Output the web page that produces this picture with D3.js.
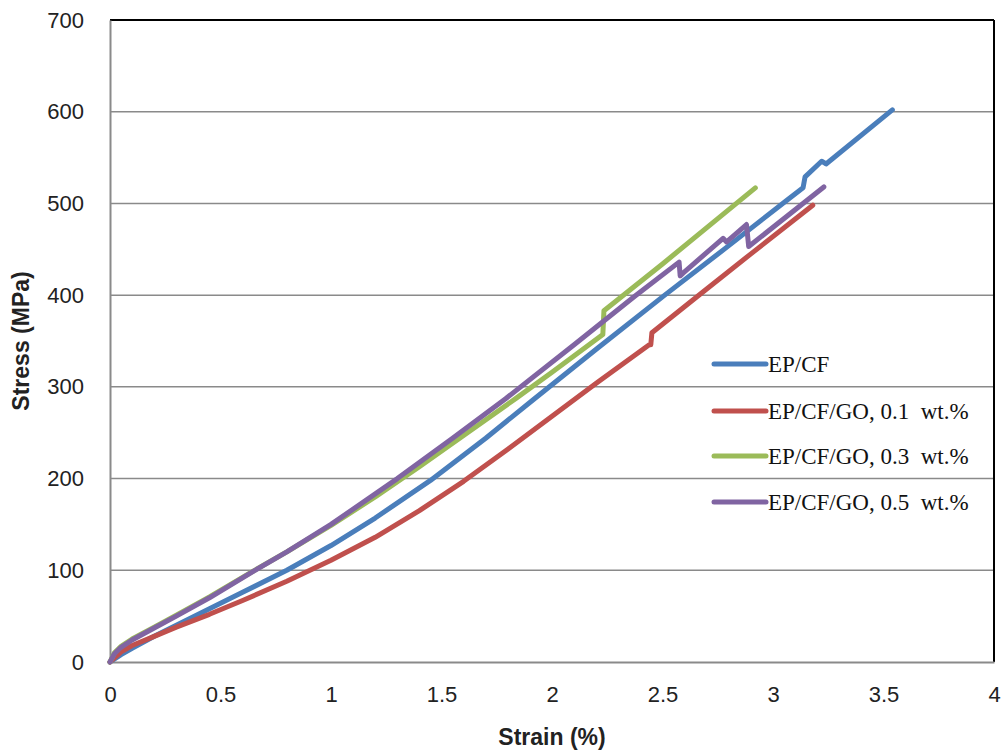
<!DOCTYPE html>
<html>
<head>
<meta charset="utf-8">
<script src="https://cdn.jsdelivr.net/npm/d3@7"></script>
<style>
  body { margin: 0; background: #fff; }
  svg { display: block; }
</style>
</head>
<body>
<svg width="1003" height="751"></svg>
<script>
var svg = d3.select('svg')

// values: [strain %, stress MPa]
var epcf = [[0, 0], [0.05, 8], [0.1, 15], [0.2, 28], [0.3, 40], [0.45, 58], [0.6, 76], [0.8, 100],
  [1.0, 127], [1.2, 157], [1.45, 198], [1.7, 244], [1.915, 286], [2.2, 341], [2.51, 400],
  [2.8, 454], [3.06, 503], [3.136, 517], [3.145, 529], [3.22, 546], [3.24, 543], [3.54, 602]]
var go01 = [[0, 0], [0.05, 11], [0.1, 18], [0.2, 28], [0.3, 38], [0.45, 52], [0.6, 67], [0.8, 88],
  [1.0, 111], [1.2, 136], [1.4, 165], [1.6, 197], [1.8, 232], [2.0, 268], [2.2, 304],
  [2.44, 346], [2.447, 346], [2.452, 359], [2.67, 401], [2.9, 445], [3.18, 498]]
var go03 = [[0, 0], [0.02, 10], [0.05, 17], [0.1, 25], [0.2, 38], [0.3, 51], [0.45, 71], [0.64, 98],
  [0.8, 120], [1.0, 149], [1.2, 180], [1.4, 213], [1.6, 247], [1.84, 288], [2.0, 316], [2.23, 357],
  [2.235, 383], [2.5, 434], [2.92, 517]]
var go05 = [[0, 0], [0.02, 9], [0.05, 16], [0.1, 24], [0.2, 37], [0.3, 50], [0.45, 70], [0.65, 99],
  [0.8, 120], [1.0, 150], [1.3, 200], [1.55, 244], [1.79, 287], [2.1, 346], [2.37, 398], [2.575, 436],
  [2.58, 421], [2.593, 424], [2.774, 462], [2.79, 458], [2.88, 477], [2.89, 453], [3.23, 518]]

var seriesNames = ['EP/CF', 'EP/CF/GO, 0.1 wt.%', 'EP/CF/GO, 0.3 wt.%', 'EP/CF/GO, 0.5 wt.%']
var seriesColors = ['#4a7ebb', '#c0504d', '#9bbb59', '#8064a2']
var xTicks = [0, 0.5, 1, 1.5, 2, 2.5, 3, 3.5, 4]
var yTicks = [0, 100, 200, 300, 400, 500, 600, 700]

var series = [epcf, go01, go03, go05].map((pts, i) => ({ name: seriesNames[i], color: seriesColors[i], pts: pts }))

var plotL = 110, plotR = 994, plotT = 20, plotB = 662

var x = d3.scaleLinear().domain([0, 4]).range([plotL, plotR])
var y = d3.scaleLinear().domain([0, 700]).range([plotB, plotT])

// grid lines
svg.append('g')
  .selectAll('line')
  .data(yTicks.slice(1, -1))
  .enter().append('line')
  .attr('x1', plotL).attr('x2', plotR)
  .attr('y1', (d) => y(d)).attr('y2', (d) => y(d))
  .style('stroke', '#8a8a8a').style('stroke-width', 1.5)

// frame
svg.append('line').attr('x1', plotL).attr('x2', plotR).attr('y1', plotT).attr('y2', plotT)
  .style('stroke', '#000').style('stroke-width', 2)
svg.append('line').attr('x1', plotR).attr('x2', plotR).attr('y1', plotT).attr('y2', plotB)
  .style('stroke', '#000').style('stroke-width', 2)

var yAxis = svg.append('g')
  .attr('transform', 'translate(' + plotL + ',0)')
  .call(d3.axisLeft(y).tickValues(yTicks).tickSize(0).tickPadding(26))
var xAxis = svg.append('g')
  .attr('transform', 'translate(0,' + plotB + ')')
  .call(d3.axisBottom(x).tickValues(xTicks).tickSize(0).tickPadding(24).tickFormat(d3.format('')))

;[yAxis, xAxis].forEach((a) => {
  a.select('.domain').style('stroke', '#8a8a8a').style('stroke-width', 2)
  a.selectAll('text')
    .style('font-family', 'Liberation Sans, Arial, sans-serif')
    .style('font-size', '22px')
    .style('fill', '#222')
})

// curves
var line = d3.line()
  .x((d) => x(d[0]))
  .y((d) => y(d[1]))

svg.append('g')
  .selectAll('path')
  .data(series)
  .enter().append('path')
  .attr('d', (d) => line(d.pts))
  .style('fill', 'none')
  .style('stroke', (d) => d.color)
  .style('stroke-width', 5)
  .style('stroke-linecap', 'round')
  .style('stroke-linejoin', 'round')

// axis titles
svg.append('text')
  .attr('transform', 'translate(29,' + ((plotT + plotB) / 2) + ') rotate(-90)')
  .attr('text-anchor', 'middle')
  .style('font-family', 'Liberation Sans, Arial, sans-serif')
  .style('font-weight', 'bold')
  .style('font-size', '23px')
  .style('fill', '#222')
  .text('Stress (MPa)')

svg.append('text')
  .attr('x', 552).attr('y', 745)
  .attr('text-anchor', 'middle')
  .style('font-family', 'Liberation Sans, Arial, sans-serif')
  .style('font-weight', 'bold')
  .style('font-size', '23px')
  .style('fill', '#222')
  .text('Strain (%)')

// legend
var legendY = [364, 411, 456, 502]
var legend = svg.append('g')
  .selectAll('g')
  .data(series)
  .enter().append('g')
  .attr('transform', (d, i) => 'translate(0,' + legendY[i] + ')')

legend.append('line')
  .attr('x1', 714).attr('x2', 766)
  .style('stroke', (d) => d.color)
  .style('stroke-width', 5)
  .style('stroke-linecap', 'round')

legend.append('text')
  .attr('x', 768).attr('y', 8)
  .style('font-family', 'Liberation Serif, Times New Roman, serif')
  .style('font-size', '23px')
  .style('fill', '#111')
  .style('white-space', 'pre')
  .text((d) => d.name.replace(' wt', '  wt'))
</script>
</body>
</html>
